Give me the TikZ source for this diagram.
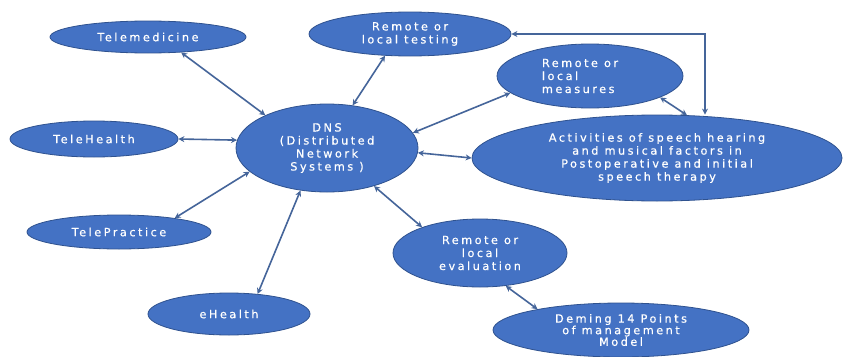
\documentclass[tikz,border=0pt]{standalone}
\usepackage{fontspec}
\setmainfont{DejaVu Sans}[LetterSpace=22,FakeBold=0.5]
\usetikzlibrary{shapes.geometric,arrows.meta}
\definecolor{nodefill}{HTML}{4472C4}
\definecolor{nodeedge}{HTML}{2F528F}
\definecolor{linkcol}{HTML}{45659A}
\begin{document}
\begin{tikzpicture}[x=1pt,y=-1pt,
  bubble/.style={ellipse,draw=nodeedge,line width=0.8pt,fill=nodefill,text=white,
    inner sep=0pt,align=center,font=\fontsize{11.3}{13}\selectfont},
  link/.style={draw=linkcol,line width=1.6pt,
    {Stealth[length=6pt,width=6pt]}-{Stealth[length=6pt,width=6pt]}}]
\useasboundingbox[fill=white] (0,0) rectangle (845,356);

% outer ring of services
\node[bubble,minimum width=196pt,minimum height=32pt] (tmed) at (148,37) {Telemedicine};
\node[bubble,minimum width=168pt,minimum height=36pt] (thl) at (94,139) {TeleHealth};
\node[bubble,minimum width=184pt,minimum height=34pt] (tpr) at (119,232) {TelePractice};
\node[bubble,minimum width=162pt,minimum height=42pt] (ehl) at (229,314) {eHealth};

% hub
\node[bubble,minimum width=182pt,minimum height=88pt] (dns) at (327,148)
  {DNS\\(Distributed\\Network\\Systems )};

% activities side
\node[bubble,minimum width=202pt,minimum height=44pt] (test) at (410,34)
  {Remote or\\local testing};
\node[bubble,minimum width=186pt,minimum height=64pt,align=left] (meas) at (590,76)
  {Remote or\hspace*{20pt}\\local\\measures};
\node[bubble,minimum width=370pt,minimum height=86pt] (act) at (657,158)
  {Activities of speech hearing\\and musical factors in\\Postoperative and initial\\speech therapy};
\node[bubble,minimum width=174pt,minimum height=68pt] (eval) at (480,253)
  {Remote or\\local\\evaluation};
\node[bubble,minimum width=256pt,minimum height=54pt,font=\fontsize{11.3}{11.6}\selectfont] (dem) at (621,330)
  {Deming 14 Points\\of management\\Model};

% connectors
\draw[link] (tmed.-25) -- (dns.152);
\draw[link] (thl.east) -- (dns.175);
\draw[link] (tpr.14) -- (dns.197);
\draw[link] (ehl.35) -- (dns.238);
\draw[link] (test.221) -- (dns.59);
\draw[link] (meas.192) -- (dns.10);
\draw[link] (dns.-3) -- (act.west);
\draw[link] (dns.-39) -- (eval.156);
\draw[link] (eval.-52) -- (dem.166);
\draw[link] (meas.-17) -- (act.55);
\coordinate (corner) at (705,34);
\draw[link,line width=2.6pt] (test.east) -- (corner) -- (corner |- act.north);
\end{tikzpicture}
\end{document}
